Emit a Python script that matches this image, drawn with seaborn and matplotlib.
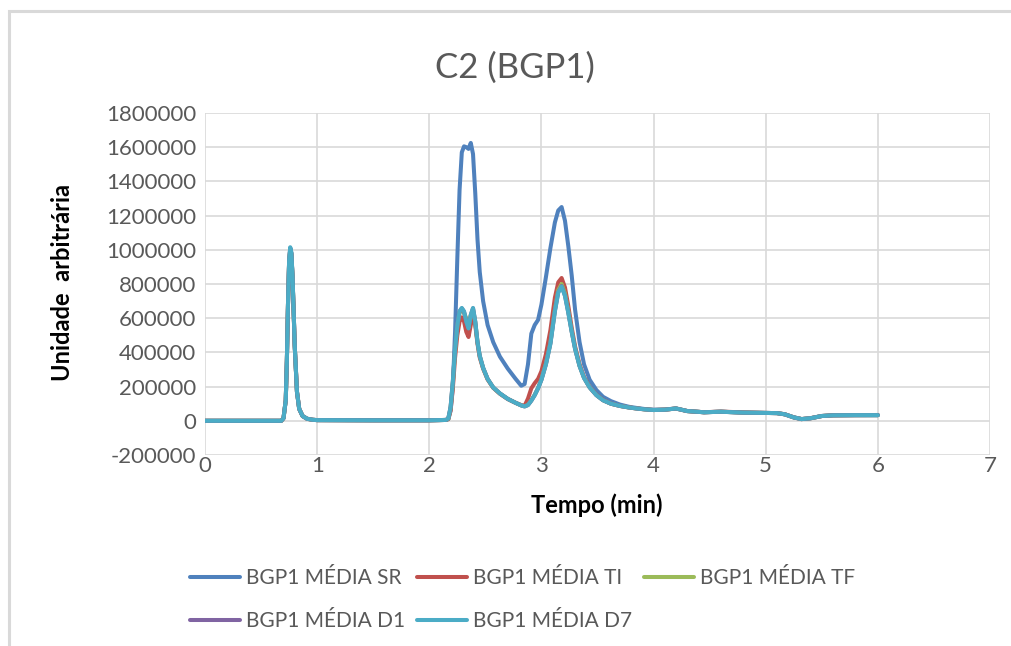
import matplotlib
matplotlib.use("Agg")
import matplotlib.pyplot as plt
from matplotlib.patches import Rectangle
import seaborn as sns
import pandas as pd

# tempo de retenção (min)
tempo = [0.0, 0.5, 0.68, 0.70, 0.72, 0.73, 0.74, 0.75, 0.76, 0.77, 0.78, 0.79, 0.80, 0.82, 0.84, 0.87,
         0.91, 0.96, 1.0, 1.5, 2.0, 2.15,
         2.17, 2.19, 2.21, 2.23, 2.25, 2.27, 2.29, 2.31, 2.33, 2.35,
         2.37, 2.39, 2.41, 2.43, 2.45, 2.48, 2.52, 2.57, 2.63, 2.70,
         2.77, 2.82, 2.85, 2.88, 2.91, 2.94, 2.97, 3.00, 3.04, 3.08,
         3.12, 3.15, 3.18, 3.21, 3.24, 3.27, 3.30, 3.34, 3.38, 3.43, 3.49,
         3.55, 3.62, 3.70, 3.78, 3.85, 3.92, 4.00, 4.10, 4.20, 4.30, 4.45, 4.60, 4.80, 5.00,
         5.10, 5.17, 5.25, 5.32, 5.40, 5.50, 5.60, 5.80, 6.00]

media_sr = [0, 0, 0, 15000, 120000, 350000, 680000, 930000, 1010000, 980000, 850000, 650000, 440000, 170000, 70000, 28000,
            12000, 6000, 4000, 3000, 3000, 5000,
            10000, 60000, 200000, 520000, 950000, 1350000, 1570000, 1605000, 1600000, 1590000,
            1625000, 1560000, 1330000, 1060000, 870000, 700000, 560000, 460000, 375000, 305000,
            245000, 205000, 215000, 330000, 510000, 560000, 590000, 680000, 840000, 1010000,
            1160000, 1230000, 1250000, 1170000, 1020000, 850000, 650000, 460000, 330000, 240000, 180000,
            140000, 115000, 95000, 82000, 75000, 69000, 65000, 66000, 72000, 57000, 50000, 53000, 48000, 46000,
            45000, 38000, 20000, 10000, 15000, 28000, 32000, 33000, 33000]

media_ti = [0, 0, 0, 15000, 120000, 350000, 680000, 925000, 1000000, 975000, 845000, 645000, 440000, 170000, 70000, 28000,
            12000, 6000, 4000, 3000, 3000, 5000,
            10000, 60000, 190000, 370000, 500000, 580000, 605000, 580000, 520000, 490000,
            560000, 615000, 560000, 450000, 370000, 305000, 242000, 193000, 158000, 127000,
            105000, 92000, 88000, 130000, 190000, 220000, 245000, 290000, 390000, 530000,
            720000, 810000, 835000, 780000, 670000, 545000, 435000, 330000, 255000, 198000, 152000,
            122000, 100000, 87000, 78000, 72000, 67000, 63000, 65000, 72000, 57000, 50000, 54000, 49000, 46000,
            45000, 38000, 20000, 10000, 15000, 28000, 32000, 33000, 34000]

media_tf = [0, 0, 0, 15000, 120000, 350000, 680000, 928000, 1005000, 978000, 848000, 648000, 440000, 170000, 70000, 28000,
            12000, 6000, 4000, 3000, 3000, 5000,
            12000, 75000, 220000, 410000, 555000, 635000, 650000, 630000, 600000, 560000,
            615000, 650000, 575000, 458000, 378000, 308000, 244000, 194000, 159000, 128000,
            105000, 90000, 85000, 94000, 120000, 152000, 192000, 243000, 335000, 458000,
            650000, 765000, 800000, 745000, 640000, 525000, 425000, 322000, 252000, 196000, 151000,
            120000, 100000, 87000, 78000, 72000, 67000, 63000, 65000, 72000, 57000, 50000, 53000, 48000, 46000,
            45000, 38000, 20000, 10000, 15000, 28000, 32000, 33000, 33000]

media_d1 = [0, 0, 0, 15000, 120000, 350000, 680000, 930000, 1010000, 980000, 850000, 650000, 440000, 170000, 70000, 28000,
            12000, 6000, 4000, 3000, 3000, 5000,
            15000, 80000, 230000, 420000, 560000, 640000, 658000, 638000, 580000, 542000,
            618000, 658000, 580000, 460000, 380000, 310000, 245000, 195000, 160000, 128000,
            105000, 90000, 84000, 92000, 118000, 150000, 190000, 240000, 330000, 452000,
            642000, 752000, 788000, 732000, 632000, 521000, 421000, 321000, 251000, 195000, 150000,
            120000, 100000, 87000, 78000, 72000, 67000, 63000, 65000, 72000, 57000, 50000, 53000, 48000, 46000,
            45000, 38000, 20000, 10000, 15000, 28000, 32000, 33000, 33000]

media_d7 = [0, 0, 0, 15000, 120000, 350000, 680000, 935000, 1015000, 985000, 855000, 650000, 440000, 170000, 70000, 28000,
            12000, 6000, 4000, 3000, 3000, 5000,
            15000, 80000, 230000, 420000, 560000, 640000, 660000, 640000, 580000, 540000,
            620000, 660000, 580000, 460000, 380000, 310000, 245000, 195000, 160000, 128000,
            105000, 90000, 84000, 92000, 118000, 150000, 190000, 240000, 330000, 450000,
            640000, 750000, 785000, 730000, 630000, 520000, 420000, 320000, 250000, 195000, 150000,
            120000, 100000, 87000, 78000, 72000, 67000, 63000, 65000, 72000, 57000, 50000, 53000, 48000, 46000,
            45000, 38000, 20000, 10000, 15000, 28000, 32000, 33000, 33000]

nomes = ["BGP1 MÉDIA SR", "BGP1 MÉDIA TI", "BGP1 MÉDIA TF", "BGP1 MÉDIA D1", "BGP1 MÉDIA D7"]
cores = ["#4F81BD", "#C0504D", "#9BBB59", "#8064A2", "#4BACC6"]

y_ticks = [-200000, 0, 200000, 400000, 600000, 800000, 1000000, 1200000, 1400000, 1600000, 1800000]
x_ticks = [0, 1, 2, 3, 4, 5, 6, 7]

sns.set_style("white")
plt.rcParams["font.family"] = ["Lato", "DejaVu Sans"]

fig = plt.figure(figsize=(10.11, 6.46), dpi=100)
ax = fig.add_axes([205 / 1011, 1 - 455 / 646, 785 / 1011, 342 / 646])

df = pd.DataFrame({"tempo": tempo})
for nome, serie, cor in zip(nomes, [media_sr, media_ti, media_tf, media_d1, media_d7], cores):
    df[nome] = serie
    sns.lineplot(data=df, x="tempo", y=nome, color=cor, lw=2.9, label=nome, ax=ax,
                 solid_joinstyle="round", solid_capstyle="round")

ax.set_xlim(0, 7)
ax.set_ylim(-200000, 1800000)
ax.set_xticks(x_ticks)
ax.set_yticks(y_ticks)
ax.set_yticklabels([str(v) for v in y_ticks])
ax.grid(True, color="#d9d9d9", lw=1.2)
ax.set_axisbelow(True)
for s in ax.spines.values():
    s.set_visible(False)
ax.tick_params(axis="both", length=0, labelsize=16, labelcolor="#595959")
ax.tick_params(axis="y", pad=6.5)
ax.tick_params(axis="x", pad=1)
ax.set_xlabel("")
ax.set_ylabel("")

# legenda em linhas: SR TI TF / D1 D7
handles, labels = ax.get_legend_handles_labels()
ax.get_legend().remove()
ordem = [0, 3, 1, 4, 2]
leg = fig.legend([handles[i] for i in ordem], [labels[i] for i in ordem], ncol=3, loc="center left",
                 bbox_to_anchor=(190 / 1011, 1 - 599.5 / 646),
                 frameon=False, fontsize=15, handlelength=2.4, handletextpad=0.3,
                 columnspacing=0.55, labelspacing=1.1, borderpad=0, borderaxespad=0)
for t in leg.get_texts():
    t.set_color("#595959")

fig.text(515 / 1011, 1 - 68 / 646, "C2 (BGP1)", ha="center", va="center", fontsize=25, color="#595959")
fig.text(62 / 1011, 1 - 283 / 646, "Unidade  arbitrária", ha="center", va="center", rotation=90,
         fontsize=17, fontweight="bold", color="black")
fig.text(597 / 1011, 1 - 505 / 646, "Tempo (min)", ha="center", va="center",
         fontsize=17, fontweight="bold", color="black")

fig.patches.append(Rectangle((9 / 1011, -0.05), 1.2, 1.05 - 11 / 646, transform=fig.transFigure,
                             fill=False, edgecolor="#d9d9d9", lw=2.2))

fig.savefig("out.png", dpi=100)
